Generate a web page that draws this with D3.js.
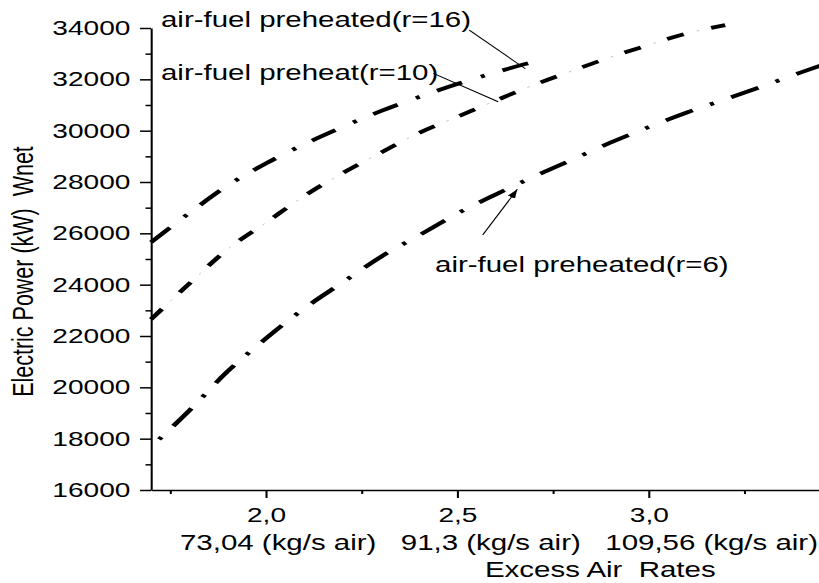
<!DOCTYPE html>
<html>
<head>
<meta charset="utf-8">
<script src="https://cdn.jsdelivr.net/npm/d3@7"></script>
<style>
  body { margin: 0; background: #fff; }
  svg { display: block; font-family: "Liberation Sans", Arial, sans-serif; }
  text { white-space: pre; fill: #000; }
</style>
</head>
<body>
<svg id="chart" width="819" height="583"></svg>
<script>
// excess air rate vs net electric power (kW), one pair of arrays per compression ratio
const ratesR16 = [1.7, 1.8, 1.9, 2.0, 2.1, 2.2, 2.3, 2.4, 2.5, 2.6, 2.7];
const powerR16 = [25650, 26790, 27860, 28720, 29470, 30140, 30760, 31310, 31815, 32270, 32685];

const ratesR10 = [1.7, 1.8, 1.9, 2.0, 2.1, 2.2, 2.3, 2.4, 2.5, 2.6, 2.7, 2.8, 2.9, 3.0, 3.1, 3.2];
const powerR10 = [22650, 24040, 25380, 26410, 27450, 28340, 29140, 29910, 30540, 31170, 31780, 32330, 32860, 33340, 33790, 34110];

const ratesR6 = [1.7, 1.8, 1.9, 2.0, 2.1, 2.2, 2.3, 2.4, 2.5, 2.6, 2.7, 2.8, 2.9, 3.0, 3.1, 3.2, 3.3, 3.4, 3.5];
const powerR6 = [17680, 19095, 20620, 21900, 23070, 24080, 25080, 25920, 26770, 27510, 28210, 28870, 29530, 30140, 30710, 31220, 31740, 32280, 32800];

const seriesNames = ["air-fuel preheated(r=16)", "air-fuel preheat(r=10)", "air-fuel preheated(r=6)"];

const xMajorTicks = [2.0, 2.5, 3.0];
const xMinorTicks = [1.75, 2.25, 2.75, 3.25];
const airFlowLabels = ["73,04 (kg/s air)", "91,3 (kg/s air)", "109,56 (kg/s air)"];
const yMajorTicks = [16000, 18000, 20000, 22000, 24000, 26000, 28000, 30000, 32000, 34000];
const yMinorTicks = [17000, 19000, 21000, 23000, 25000, 27000, 29000, 31000, 33000];

const xTitle = "Excess Air  Rates";
const yTitle = "Electric Power (kW)  Wnet";

// the original picture is stretched sideways, so draw in a squeezed space and scale it out
const sx = 1.37;

const svg = d3.select("#chart");
const g = svg.append("g").attr("transform", `scale(${sx},1)`);

const x = d3.scaleLinear().domain([1.7, 3.5]).range([151 / sx, 840 / sx]);
const y = d3.scaleLinear().domain([16000, 34000]).range([490, 28]);

const commaFmt = d => d3.format(".1f")(d).replace(".", ",");

const styleAxis = (a, fontSize) => {
  a.attr("font-family", null).attr("font-size", null);
  a.selectAll("path, line").attr("stroke", "#000").attr("stroke-width", 1.5);
  a.selectAll("text").style("font-size", fontSize + "px").attr("fill", "#000");
};

// x axis
const gx = g.append("g").attr("transform", `translate(0,${y(16000)})`);
gx.append("g")
  .call(d3.axisBottom(x).tickValues(xMinorTicks).tickSize(4).tickSizeOuter(0).tickFormat(""))
  .call(a => a.select(".domain").remove())
  .call(a => styleAxis(a, 20.5));
gx.append("g")
  .call(d3.axisBottom(x).tickValues(xMajorTicks).tickSize(8).tickPadding(9).tickSizeOuter(0).tickFormat(commaFmt))
  .call(a => styleAxis(a, 20.5));

// y axis
const gy = g.append("g").attr("transform", `translate(${x(1.7)},0)`);
gy.append("g")
  .call(d3.axisLeft(y).tickValues(yMinorTicks).tickSize(4).tickSizeOuter(0).tickFormat(""))
  .call(a => a.select(".domain").remove())
  .call(a => styleAxis(a, 20.5));
gy.append("g")
  .call(d3.axisLeft(y).tickValues(yMajorTicks).tickSize(8).tickPadding(7).tickSizeOuter(0).tickFormat(d3.format("d")))
  .call(a => styleAxis(a, 20.5));

// second row under the x ticks, and axis titles
g.append("text")
  .attr("x", 180 / sx)
  .attr("y", 550)
  .style("font-size", "21.5px")
  .text(airFlowLabels.join("   "));

g.append("text")
  .attr("x", 485 / sx)
  .attr("y", 577)
  .style("font-size", "21.5px")
  .text(xTitle);

g.append("text")
  .attr("transform", `translate(${33 / sx},271.5) rotate(-90)`)
  .attr("text-anchor", "middle")
  .style("font-size", "21.5px")
  .text(yTitle);

// curves
const line = d3.line()
  .x(d => x(d[0]))
  .y(d => y(d[1]))
  .curve(d3.curveMonotoneX);

const series = [
  { rates: ratesR16, power: powerR16, dash: "20,15,3,14", offset: 0, faintDots: false },
  { rates: ratesR10, power: powerR10, dash: "13,21", offset: 0, faintDots: true },
  { rates: ratesR6, power: powerR6, dash: "22,14,3,14", offset: 26.5, faintDots: false }
];

const gLines = g.append("g").attr("id", "lines");

series.forEach((s) => {
  const pts = s.rates.map((r, i) => [r, s.power[i]]);
  gLines.append("path")
    .datum(pts)
    .attr("fill", "none")
    .attr("stroke", "#000")
    .attr("stroke-width", 3.8)
    .attr("stroke-linecap", "butt")
    .attr("stroke-dasharray", s.dash)
    .attr("stroke-dashoffset", s.offset)
    .attr("d", line);
  if (s.faintDots) {
    // r=10 has only hairline grey dots between its dashes
    gLines.append("path")
      .datum(pts)
      .attr("fill", "none")
      .attr("stroke", "#b5b5b5")
      .attr("stroke-width", 0.7)
      .attr("stroke-dasharray", "2,32")
      .attr("stroke-dashoffset", -23)
      .attr("d", line);
  }
});

// labels with pointer lines (anchors in data units)
const notes = [
  { label: [1.7261, 34037], from: [2.5315, 33920], to: [2.678, 32412], arrow: false },
  { label: [1.7261, 31972], from: [2.4375, 32233], to: [2.607, 31127], arrow: false },
  { label: [2.442, 24504], from: [2.5665, 25934], to: [2.657, 27714], arrow: true }
];

svg.append("defs").append("marker")
  .attr("id", "head")
  .attr("markerUnits", "userSpaceOnUse")
  .attr("viewBox", "0 0 9 6")
  .attr("refX", 9)
  .attr("refY", 3)
  .attr("markerWidth", 9)
  .attr("markerHeight", 6)
  .attr("orient", "auto")
  .append("path")
  .attr("d", "M0,0L9,3L0,6Z")
  .attr("fill", "#000");

const gNotes = g.append("g").attr("id", "notes");
notes.forEach((n, i) => {
  gNotes.append("text")
    .attr("x", x(n.label[0]))
    .attr("y", y(n.label[1]))
    .style("font-size", "21.5px")
    .text(seriesNames[i]);
  gNotes.append("line")
    .attr("x1", x(n.from[0]))
    .attr("y1", y(n.from[1]))
    .attr("x2", x(n.to[0]))
    .attr("y2", y(n.to[1]))
    .attr("stroke", "#000")
    .attr("stroke-width", 0.9)
    .attr("marker-end", n.arrow ? "url(#head)" : null);
});
</script>
</body>
</html>
